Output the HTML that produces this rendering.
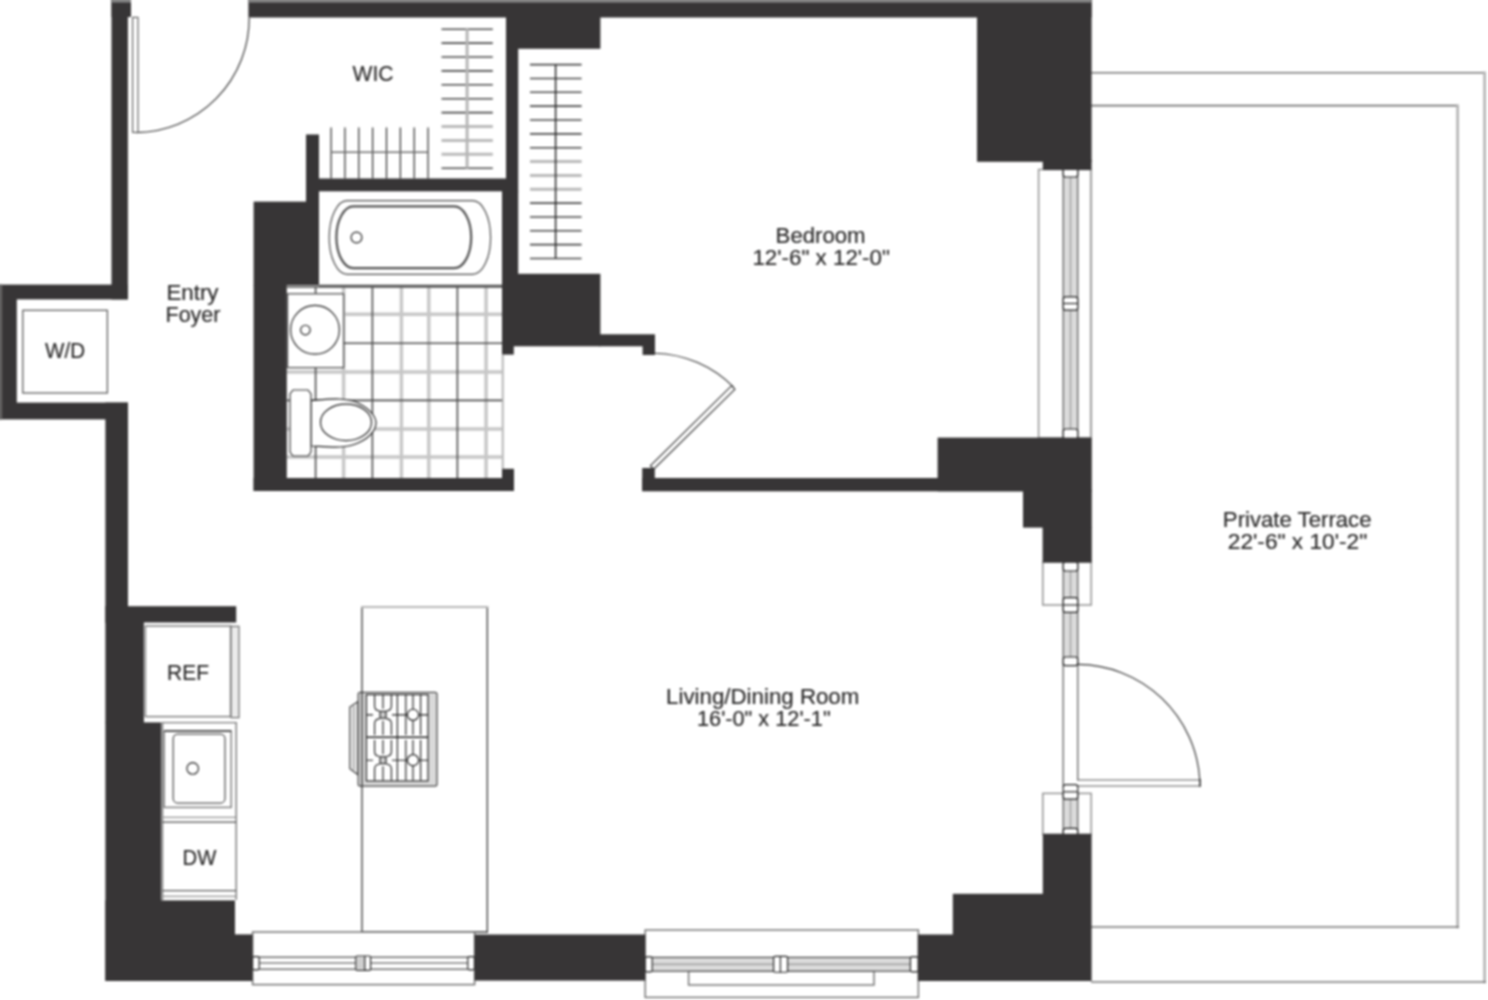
<!DOCTYPE html>
<html><head><meta charset="utf-8"><title>Floor plan</title>
<style>html,body{margin:0;padding:0;background:#fff}svg{display:block}</style></head>
<body><svg width="1488" height="1000" viewBox="0 0 1488 1000">
<defs><filter id="soft" x="-10" y="-10" width="1508" height="1020" filterUnits="userSpaceOnUse" color-interpolation-filters="sRGB"><feGaussianBlur stdDeviation="0.8"/></filter></defs>
<rect width="1488" height="1000" fill="#fff"/>
<g filter="url(#soft)">
<path d="M1091 72.8H1484.6" fill="none" stroke="#747474" stroke-width="1.60" />
<path d="M1484.6 71.5V983.2" fill="none" stroke="#b4b4b4" stroke-width="2.71" />
<path d="M1091 982H1486" fill="none" stroke="#747474" stroke-width="1.60" />
<path d="M1091 105.6H1458" fill="none" stroke="#747474" stroke-width="1.60" />
<path d="M1457.6 104.4V928.2" fill="none" stroke="#b4b4b4" stroke-width="2.71" />
<path d="M1091 927H1459" fill="none" stroke="#747474" stroke-width="1.60" />
<line x1="343.6" y1="287" x2="343.6" y2="478" stroke="#c7c7c7" stroke-width="3.44"/>
<line x1="401.4" y1="287" x2="401.4" y2="478" stroke="#c7c7c7" stroke-width="3.44"/>
<line x1="428.8" y1="287" x2="428.8" y2="478" stroke="#c7c7c7" stroke-width="3.44"/>
<line x1="486.1" y1="287" x2="486.1" y2="478" stroke="#c7c7c7" stroke-width="3.44"/>
<line x1="502.8" y1="355" x2="502.8" y2="469" stroke="#bcbcbc" stroke-width="2.19"/>
<line x1="287" y1="314.2" x2="502" y2="314.2" stroke="#c7c7c7" stroke-width="3.44"/>
<line x1="287" y1="372" x2="502" y2="372" stroke="#c7c7c7" stroke-width="3.44"/>
<line x1="287" y1="429" x2="502" y2="429" stroke="#c7c7c7" stroke-width="3.44"/>
<line x1="287" y1="457" x2="502" y2="457" stroke="#c7c7c7" stroke-width="3.44"/>
<line x1="315.6" y1="287" x2="315.6" y2="478" stroke="#4c4c4c" stroke-width="1.60"/>
<line x1="372.4" y1="287" x2="372.4" y2="478" stroke="#4c4c4c" stroke-width="1.60"/>
<line x1="457.4" y1="287" x2="457.4" y2="478" stroke="#4c4c4c" stroke-width="1.60"/>
<line x1="287" y1="287" x2="502" y2="287" stroke="#4c4c4c" stroke-width="1.60"/>
<line x1="287" y1="343.2" x2="502" y2="343.2" stroke="#4c4c4c" stroke-width="1.60"/>
<line x1="287" y1="400.4" x2="502" y2="400.4" stroke="#4c4c4c" stroke-width="1.60"/>
<rect x="319" y="191" width="182.5" height="93.5" fill="#fff" />
<line x1="319" y1="285.6" x2="502" y2="285.6" stroke="#505050" stroke-width="1.91"/>
<rect x="329.2" y="200.6" width="161.4" height="73.8" rx="18" ry="36.9" fill="#fff" stroke="#464646" stroke-width="1.15"/>
<rect x="336.4" y="206.4" width="134.8" height="61.8" rx="17" ry="30.9" fill="#fff" stroke="#525252" stroke-width="2.19"/>
<circle cx="356.5" cy="237.5" r="5.4" fill="#fff" stroke="#1e1e1e" stroke-width="1.15"/>
<rect x="287.5" y="293.8" width="56.1" height="73.8" fill="#fff" stroke="#4b4b4b" stroke-width="1.25" rx="0" />
<circle cx="315" cy="329.8" r="24.4" fill="#fff" stroke="#1e1e1e" stroke-width="1.15"/>
<circle cx="305.4" cy="330" r="4.8" fill="#fff" stroke="#1e1e1e" stroke-width="1.15"/>
<path d="M311 400.5 C330 399 345 397 358 403 C372 410 376 418 376 423 C376 428 372 437 358 443 C345 449 330 447 311 446 Z" fill="#fff" stroke="#1e1e1e" stroke-width="1.15" />
<ellipse cx="346" cy="422.4" rx="25.5" ry="18.2" fill="#fff" stroke="#1e1e1e" stroke-width="1.15"/>
<path d="M293 390 H308 L311 394 V452 L308 456 H293 L290 452 V394 Z" fill="#fff" stroke="#313131" stroke-width="1.15" />
<line x1="441.5" y1="29.2" x2="492.8" y2="29.2" stroke="#494949" stroke-width="1.60"/>
<line x1="441.5" y1="43.1" x2="492.8" y2="43.1" stroke="#494949" stroke-width="1.60"/>
<line x1="441.5" y1="57.0" x2="492.8" y2="57.0" stroke="#494949" stroke-width="1.60"/>
<line x1="441.5" y1="70.9" x2="492.8" y2="70.9" stroke="#494949" stroke-width="1.60"/>
<line x1="441.5" y1="84.8" x2="492.8" y2="84.8" stroke="#494949" stroke-width="1.60"/>
<line x1="441.5" y1="98.7" x2="492.8" y2="98.7" stroke="#494949" stroke-width="1.60"/>
<line x1="441.5" y1="112.6" x2="492.8" y2="112.6" stroke="#494949" stroke-width="1.60"/>
<line x1="441.5" y1="126.5" x2="492.8" y2="126.5" stroke="#bababa" stroke-width="2.96"/>
<line x1="441.5" y1="140.4" x2="492.8" y2="140.4" stroke="#bababa" stroke-width="2.96"/>
<line x1="441.5" y1="154.3" x2="492.8" y2="154.3" stroke="#bababa" stroke-width="2.96"/>
<line x1="441.5" y1="168.2" x2="492.8" y2="168.2" stroke="#494949" stroke-width="1.60"/>
<line x1="467.1" y1="29" x2="467.1" y2="168.5" stroke="#b5b5b5" stroke-width="2.96"/>
<line x1="530" y1="64.6" x2="581.6" y2="64.6" stroke="#494949" stroke-width="1.60"/>
<line x1="530" y1="78.45" x2="581.6" y2="78.45" stroke="#494949" stroke-width="1.60"/>
<line x1="530" y1="92.3" x2="581.6" y2="92.3" stroke="#494949" stroke-width="1.60"/>
<line x1="530" y1="106.15" x2="581.6" y2="106.15" stroke="#494949" stroke-width="1.60"/>
<line x1="530" y1="120.0" x2="581.6" y2="120.0" stroke="#494949" stroke-width="1.60"/>
<line x1="530" y1="133.85" x2="581.6" y2="133.85" stroke="#494949" stroke-width="1.60"/>
<line x1="530" y1="147.7" x2="581.6" y2="147.7" stroke="#494949" stroke-width="1.60"/>
<line x1="530" y1="161.55" x2="581.6" y2="161.55" stroke="#bababa" stroke-width="2.96"/>
<line x1="530" y1="175.4" x2="581.6" y2="175.4" stroke="#bababa" stroke-width="2.96"/>
<line x1="530" y1="189.25" x2="581.6" y2="189.25" stroke="#bababa" stroke-width="2.96"/>
<line x1="530" y1="203.1" x2="581.6" y2="203.1" stroke="#494949" stroke-width="1.60"/>
<line x1="530" y1="216.95" x2="581.6" y2="216.95" stroke="#494949" stroke-width="1.60"/>
<line x1="530" y1="230.8" x2="581.6" y2="230.8" stroke="#494949" stroke-width="1.60"/>
<line x1="530" y1="244.65" x2="581.6" y2="244.65" stroke="#494949" stroke-width="1.60"/>
<line x1="530" y1="258.5" x2="581.6" y2="258.5" stroke="#494949" stroke-width="1.60"/>
<line x1="555.6" y1="64.6" x2="555.6" y2="258.5" stroke="#1e1e1e" stroke-width="1.43"/>
<line x1="331.1" y1="127.5" x2="331.1" y2="178.5" stroke="#212121" stroke-width="1.15"/>
<line x1="344.95" y1="127.5" x2="344.95" y2="178.5" stroke="#212121" stroke-width="1.15"/>
<line x1="358.8" y1="127.5" x2="358.8" y2="178.5" stroke="#212121" stroke-width="1.15"/>
<line x1="372.65" y1="127.5" x2="372.65" y2="178.5" stroke="#212121" stroke-width="1.15"/>
<line x1="386.5" y1="127.5" x2="386.5" y2="178.5" stroke="#212121" stroke-width="1.15"/>
<line x1="400.35" y1="127.5" x2="400.35" y2="178.5" stroke="#212121" stroke-width="1.15"/>
<line x1="414.2" y1="127.5" x2="414.2" y2="178.5" stroke="#212121" stroke-width="1.15"/>
<line x1="428.05" y1="127.5" x2="428.05" y2="178.5" stroke="#212121" stroke-width="1.15"/>
<line x1="331" y1="152.2" x2="428.3" y2="152.2" stroke="#6b6b6b" stroke-width="1.60"/>
<rect x="22.8" y="310.3" width="84.6" height="82.7" fill="#fff" stroke="#565656" stroke-width="1.25" rx="0" />
<rect x="143.8" y="623" width="87.2" height="98.6" fill="#fff" />
<rect x="145.4" y="626" width="85.4" height="90.6" fill="#fff" stroke="#797979" stroke-width="1.43" rx="0" />
<line x1="230.8" y1="626" x2="230.8" y2="716.6" stroke="#7c7c7c" stroke-width="1.91"/>
<rect x="231" y="626.4" width="8" height="91.2" fill="#ebebeb" stroke="#717171" stroke-width="1.25" rx="0" />
<rect x="161.3" y="722" width="75.7" height="178.6" fill="#fff" />
<path d="M162.5 900V722.6H236.2V900" fill="none" stroke="#797979" stroke-width="1.43" />
<rect x="164.2" y="731" width="67.0" height="76.4" fill="#fff" stroke="#797979" stroke-width="1.43" rx="0" />
<line x1="164.2" y1="731" x2="231.2" y2="731" stroke="#3c3c3c" stroke-width="1.43"/>
<rect x="173.2" y="734.2" width="51.8" height="68.8" fill="#fff" stroke="#525252" stroke-width="1.25" rx="4.5" />
<circle cx="192.7" cy="768.4" r="5.8" fill="#fff" stroke="#1e1e1e" stroke-width="1.15"/>
<line x1="162" y1="817.4" x2="236" y2="817.4" stroke="#8f8f8f" stroke-width="1.25"/>
<line x1="162" y1="822" x2="236" y2="822" stroke="#4b4b4b" stroke-width="1.25"/>
<line x1="162" y1="890.6" x2="236" y2="890.6" stroke="#5a5a5a" stroke-width="1.25"/>
<line x1="162" y1="896.4" x2="236" y2="896.4" stroke="#8f8f8f" stroke-width="1.25"/>
<path d="M358 701.6 L349.8 707 V768.6 L358 774.8 Z" fill="#ececec" stroke="#3e3e3e" stroke-width="1.15" />
<line x1="353.8" y1="706" x2="353.8" y2="770" stroke="#8f8f8f" stroke-width="1.15"/>
<rect x="358.2" y="692.4" width="78.8" height="93.6" fill="#dadada" stroke="#4b4b4b" stroke-width="1.25" rx="2" />
<rect x="366.4" y="694.6" width="61.6" height="86.4" fill="#fff" />
<g fill="none" stroke="#1e1e1e" stroke-width="1.15">
<rect x="366.4" y="694.6" width="61.6" height="86.4"/>
<path d="M397.4 694.6V781"/>
<path d="M374.6 694.6V705.8Q374.6 710.8 379.6 710.8M391.4 694.6V705.8Q391.4 710.8 386.4 710.8"/>
<path d="M374.6 735.0V723.8Q374.6 718.8 379.6 718.8M391.4 735.0V723.8Q391.4 718.8 386.4 718.8"/>
<path d="M383 694.6V708.8M383 735.0V720.8M367 714.8H373M392 714.8H397"/>
<rect x="380" y="711.4" width="6" height="6.8" fill="#ccc"/>
<path d="M405.8 694.6V735.0M413 694.6V735.0M420.6 694.6V735.0M398 714.8H428"/>
<circle cx="413" cy="714.8" r="5.6" fill="#fff"/>
<path d="M374.6 740.0V751.2Q374.6 756.2 379.6 756.2M391.4 740.0V751.2Q391.4 756.2 386.4 756.2"/>
<path d="M374.6 780.4V769.2Q374.6 764.2 379.6 764.2M391.4 780.4V769.2Q391.4 764.2 386.4 764.2"/>
<path d="M383 740.0V754.2M383 780.4V766.2M367 760.2H373M392 760.2H397"/>
<rect x="380" y="756.8" width="6" height="6.8" fill="#ccc"/>
<path d="M405.8 740.0V780.4M413 740.0V780.4M420.6 740.0V780.4M398 760.2H428"/>
<circle cx="413" cy="760.2" r="5.6" fill="#fff"/>
</g>
<path d="M366.4 737.2H428" fill="none" stroke="#1e1e1e" stroke-width="1.60" />
<path d="M362 932.5V607M487.3 607V932.5" fill="none" stroke="#1e1e1e" stroke-width="1.15" />
<line x1="361" y1="607" x2="488.4" y2="607" stroke="#b7b7b7" stroke-width="2.19"/>
<line x1="361" y1="932" x2="488" y2="932" stroke="#3c3c3c" stroke-width="1.43"/>
<rect x="1038.6" y="169.5" width="52.4" height="268.5" fill="#fff" stroke="#8d8d8d" stroke-width="1.43" rx="0" />
<rect x="1063.2" y="169" width="14.6" height="269" fill="#dbdbdb" stroke="#4e4e4e" stroke-width="1.15" rx="0" />
<line x1="1070.5" y1="169" x2="1070.5" y2="438" stroke="#999999" stroke-width="1.15"/>
<rect x="1063.2" y="168" width="14.6" height="9" fill="#fff" stroke="#1e1e1e" stroke-width="1.15" rx="2.5" />
<rect x="1063.2" y="296.8" width="14.6" height="13.4" fill="#fff" stroke="#1e1e1e" stroke-width="1.15" rx="2.5" />
<line x1="1063.2" y1="303.5" x2="1077.8" y2="303.5" stroke="#1e1e1e" stroke-width="1.15"/>
<rect x="1063.2" y="429" width="14.6" height="10" fill="#fff" stroke="#1e1e1e" stroke-width="1.15" rx="2.5" />
<line x1="1091" y1="170" x2="1091" y2="437.6" stroke="#a3a3a3" stroke-width="2.19"/>
<rect x="1042.8" y="562" width="48.4" height="43" fill="#fff" stroke="#8d8d8d" stroke-width="1.43" rx="0" />
<rect x="1063.2" y="562" width="14.6" height="103" fill="#dbdbdb" stroke="#4e4e4e" stroke-width="1.15" rx="0" />
<line x1="1070.5" y1="562" x2="1070.5" y2="665" stroke="#999999" stroke-width="1.15"/>
<rect x="1063.2" y="562" width="14.6" height="9" fill="#fff" stroke="#1e1e1e" stroke-width="1.15" rx="2.5" />
<rect x="1063.2" y="597.6" width="14.6" height="14.8" fill="#fff" stroke="#1e1e1e" stroke-width="1.15" rx="2.5" />
<line x1="1063.2" y1="605" x2="1077.8" y2="605" stroke="#1e1e1e" stroke-width="1.15"/>
<rect x="1063.2" y="665" width="14.6" height="121" fill="#fff" stroke="#4e4e4e" stroke-width="1.15" rx="0" />
<rect x="1063.2" y="657" width="14.6" height="8.6" fill="#fff" stroke="#1e1e1e" stroke-width="1.15" rx="2.5" />
<path d="M1078 664.4A123 123 0 0 1 1199.8 780" fill="none" stroke="#313131" stroke-width="1.15" />
<path d="M1077 780H1200V786H1077" fill="#fff" stroke="#5a5a5a" stroke-width="1.15" />
<line x1="1200" y1="779" x2="1200" y2="787" stroke="#1e1e1e" stroke-width="1.15"/>
<rect x="1042.8" y="793.4" width="48.4" height="41.1" fill="#fff" stroke="#8d8d8d" stroke-width="1.43" rx="0" />
<rect x="1063.2" y="793" width="14.6" height="41.5" fill="#dbdbdb" stroke="#4e4e4e" stroke-width="1.15" rx="0" />
<line x1="1070.5" y1="799" x2="1070.5" y2="834" stroke="#999999" stroke-width="1.15"/>
<rect x="1063.2" y="784.6" width="14.6" height="14.6" fill="#fff" stroke="#1e1e1e" stroke-width="1.15" rx="2.5" />
<line x1="1063.2" y1="791.8" x2="1077.8" y2="791.8" stroke="#1e1e1e" stroke-width="1.15"/>
<rect x="1063.2" y="828.4" width="14.6" height="6.6" fill="#fff" stroke="#1e1e1e" stroke-width="1.15" rx="2.5" />
<rect x="252.6" y="932" width="222.0" height="52.6" fill="#fff" stroke="#6b6b6b" stroke-width="1.43" rx="0" />
<rect x="252.6" y="957.2" width="222.0" height="12.0" fill="#fff" stroke="#3e3e3e" stroke-width="1.15" rx="0" />
<line x1="259" y1="963" x2="468" y2="963" stroke="#3e3e3e" stroke-width="1.15"/>
<rect x="252.6" y="956.6" width="6.6" height="13.2" fill="#fff" stroke="#1e1e1e" stroke-width="1.15" rx="1.5" />
<rect x="467.8" y="956.6" width="6.6" height="13.2" fill="#fff" stroke="#1e1e1e" stroke-width="1.15" rx="1.5" />
<rect x="355.8" y="956" width="14.8" height="14.4" fill="#fff" stroke="#1e1e1e" stroke-width="1.15" rx="1.5" />
<rect x="357" y="957.2" width="7.6" height="12.0" fill="#cfcfcf" />
<line x1="364.8" y1="956" x2="364.8" y2="970.4" stroke="#1e1e1e" stroke-width="1.15"/>
<rect x="645.2" y="930" width="273.2" height="67.4" fill="#fff" stroke="#717171" stroke-width="1.43" rx="0" />
<rect x="688.6" y="971" width="185.4" height="14" fill="#fff" stroke="#717171" stroke-width="1.43" rx="0" />
<rect x="645.2" y="957.4" width="273.2" height="13.8" fill="#dbdbdb" stroke="#3e3e3e" stroke-width="1.15" rx="0" />
<line x1="652" y1="964.2" x2="911" y2="964.2" stroke="#838383" stroke-width="1.15"/>
<rect x="645.2" y="956.8" width="7.0" height="15.0" fill="#fff" stroke="#1e1e1e" stroke-width="1.15" rx="1.5" />
<rect x="910.4" y="956.8" width="7.8" height="15.0" fill="#fff" stroke="#1e1e1e" stroke-width="1.15" rx="1.5" />
<rect x="773.6" y="956.4" width="14.0" height="15.8" fill="#fff" stroke="#1e1e1e" stroke-width="1.15" rx="1.5" />
<line x1="780.4" y1="956.4" x2="780.4" y2="972.2" stroke="#1e1e1e" stroke-width="1.15"/>
<path d="M249.2 17.5A114.4 114.4 0 0 1 136 132.6" fill="none" stroke="#313131" stroke-width="1.15" />
<rect x="132.6" y="17.4" width="5.4" height="115.0" fill="#fff" stroke="#5a5a5a" stroke-width="1.15" rx="0" />
<path d="M655 353.2A114.4 114.4 0 0 1 733.6 387.2" fill="none" stroke="#313131" stroke-width="1.15" />
<rect x="652" y="465.1" width="114" height="4.8" fill="#fff" stroke="#363636" stroke-width="1.15" transform="rotate(-44.6 652 467.4)"/>
<g fill="#373536">
<rect x="111.5" y="-6" width="16.4" height="305.4" fill="#373536" />
<rect x="111.5" y="-6" width="19.5" height="23" fill="#373536" />
<rect x="-6" y="284.6" width="134" height="14.8" fill="#373536" />
<rect x="-6" y="285" width="22.8" height="134" fill="#373536" />
<rect x="-6" y="402.6" width="134" height="16.8" fill="#373536" />
<rect x="105.4" y="402.6" width="22.6" height="219.9" fill="#373536" />
<rect x="105.4" y="606.2" width="130.8" height="16.3" fill="#373536" />
<rect x="105.4" y="622" width="38.5" height="101" fill="#373536" />
<rect x="105.4" y="722.4" width="55.9" height="258.6" fill="#373536" />
<rect x="105.4" y="900.4" width="129.6" height="80.6" fill="#373536" />
<rect x="234" y="934.4" width="18.6" height="46.6" fill="#373536" />
<rect x="248.4" y="-6" width="843.2" height="23.5" fill="#373536" />
<rect x="506" y="-6" width="94.4" height="54.8" fill="#373536" />
<rect x="506" y="-6" width="12.2" height="198" fill="#373536" />
<rect x="502" y="191" width="16.2" height="84" fill="#373536" />
<rect x="502" y="273.8" width="98.4" height="72.5" fill="#373536" />
<rect x="599" y="334.3" width="56" height="12.0" fill="#373536" />
<rect x="642.6" y="345" width="12.4" height="10" fill="#373536" />
<rect x="502" y="345" width="11.8" height="9.6" fill="#373536" />
<rect x="306" y="134.5" width="13" height="68.5" fill="#373536" />
<rect x="306" y="178.5" width="212" height="12.8" fill="#373536" />
<rect x="253.6" y="201.6" width="65.4" height="83.8" fill="#373536" />
<rect x="253.6" y="285" width="33.2" height="206" fill="#373536" />
<rect x="253.6" y="478" width="260.4" height="13" fill="#373536" />
<rect x="502" y="468.8" width="12" height="22.2" fill="#373536" />
<rect x="642.2" y="478" width="381.8" height="13.3" fill="#373536" />
<rect x="642.2" y="468" width="12.6" height="23" fill="#373536" />
<rect x="977" y="-6" width="114.6" height="167.8" fill="#373536" />
<rect x="1042.8" y="160" width="48.8" height="10" fill="#373536" />
<rect x="937.6" y="437.6" width="154.2" height="53.7" fill="#373536" />
<rect x="1023" y="490" width="68.8" height="37.6" fill="#373536" />
<rect x="1042.6" y="527" width="49.2" height="35.6" fill="#373536" />
<rect x="1042.8" y="833.8" width="48.8" height="147.2" fill="#373536" />
<rect x="952.8" y="893.8" width="91.2" height="87.2" fill="#373536" />
<rect x="917.8" y="934.5" width="36.2" height="46.5" fill="#373536" />
<rect x="474.6" y="934.5" width="170.6" height="46.1" fill="#373536" />
</g>
<rect x="111.5" y="-6" width="19.5" height="8.5" fill="#878787" />
<rect x="248.4" y="-6" width="843.2" height="8.5" fill="#878787" />
<rect x="-6" y="284.6" width="8.2" height="134.8" fill="#636262" />
<g font-family="'Liberation Sans', Arial, Helvetica, sans-serif" font-size="22" fill="#2a2929" stroke-width="0.2" stroke="#2a2929" stroke-linejoin="round" text-anchor="middle">
<text x="373" y="80.5" textLength="41" lengthAdjust="spacingAndGlyphs">WIC</text>
<text x="192.5" y="299.6" textLength="52" lengthAdjust="spacingAndGlyphs">Entry</text>
<text x="193" y="322" textLength="55" lengthAdjust="spacingAndGlyphs">Foyer</text>
<text x="65" y="358" textLength="40" lengthAdjust="spacingAndGlyphs">W/D</text>
<text x="188" y="680" textLength="41.8" lengthAdjust="spacingAndGlyphs">REF</text>
<text x="199.4" y="865.4" textLength="33.8" lengthAdjust="spacingAndGlyphs">DW</text>
<text x="820.6" y="243.2" textLength="90" lengthAdjust="spacingAndGlyphs">Bedroom</text>
<text x="821.2" y="265.2" textLength="137.5" lengthAdjust="spacingAndGlyphs">12'-6&quot; x 12'-0&quot;</text>
<text x="762.7" y="704.4" textLength="193.3" lengthAdjust="spacingAndGlyphs">Living/Dining Room</text>
<text x="763.8" y="726.4" textLength="133.6" lengthAdjust="spacingAndGlyphs">16'-0&quot; x 12'-1&quot;</text>
<text x="1297.2" y="526.6" textLength="148.7" lengthAdjust="spacingAndGlyphs">Private Terrace</text>
<text x="1297.5" y="548.8" textLength="139.4" lengthAdjust="spacingAndGlyphs">22'-6&quot; x 10'-2&quot;</text>
</g>
</g></svg></body></html>
